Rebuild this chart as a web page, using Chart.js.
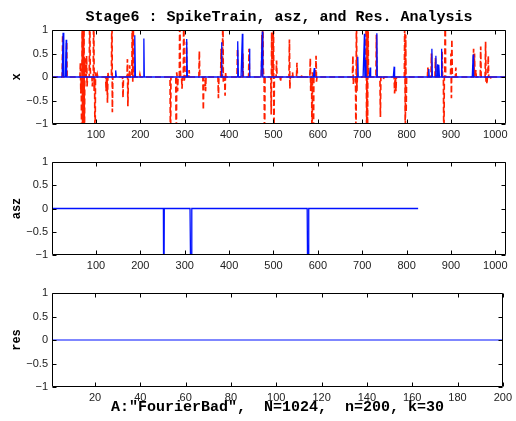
<!DOCTYPE html>
<html>
<head>
<meta charset="utf-8">
<script src="https://cdn.jsdelivr.net/npm/chart.js@4.4.1/dist/chart.umd.min.js"></script>
<style>
  html, body { margin: 0; padding: 0; background: #fff; }
  #wrap { position: relative; width: 516px; height: 421px; }
  #wrap canvas { position: absolute; left: 0; }
</style>
</head>
<body>
<div id="wrap">
  <canvas id="cx" width="516" height="142" style="top:0"></canvas>
  <canvas id="casz" width="516" height="136" style="top:142px"></canvas>
  <canvas id="cres" width="516" height="143" style="top:278px"></canvas>
</div>
<script>
// signal length and sparse values
const N = 1024;
const xSpikeIdx = [26, 33, 145, 188, 208, 305, 383, 420, 430, 446, 475, 592, 690, 705, 708, 718, 733, 772, 850, 857, 866, 870, 873, 879, 950];
const xSpikeVal = [0.94, 0.79, 0.14, 0.89, 0.82, 0.81, 0.74, 0.76, 0.92, 0.6, 0.97, 0.19, 0.43, 0.92, 0.36, 0.2, 0.93, 0.22, 0.17, 0.6, 0.45, 0.27, 0.26, 0.6, 0.48];

// red dashed estimate (index, value)
const recIdx = [25, 34, 65, 66, 68, 69, 70, 71, 72, 73, 74, 75, 79, 80, 86, 87, 92, 95, 96, 98, 99, 103,
  123, 126, 127, 136, 137, 161, 171, 172, 176, 182, 183, 184, 199,
  268, 281, 282, 284, 289, 290, 294, 298, 299, 304, 310, 333, 342, 347, 376, 382, 386, 387, 391, 392,
  419, 431, 445, 474, 476, 477, 480, 495, 496, 500, 501, 507, 516,
  536, 537, 543, 553, 564, 583, 584, 587, 588, 590, 596, 597, 679, 680, 686, 687, 688,
  709, 710, 711, 712, 713, 732, 741, 748, 773, 776,
  796, 797, 798, 799, 848, 856, 865, 880, 884, 887, 900, 901, 902, 911, 951, 953, 956, 967, 978, 979, 981, 984, 990];
const recVal = [0.9, 0.75, 0.3, -0.35, -1.8, 1.6, -1.5, 1.8, -1.6, 1.5, -1.7, 0.4, 0.45, -0.2, 1.6, 0.2, -0.2, 1.7, -0.3, -1.6, 0.1, 0.05,
  -0.3, -0.55, 0.1, 1.6, -0.75, -0.44, 0.38, -0.62, 0.25, 1.6, -0.1, 1.5, 0.05,
  -1.6, -1.7, 0.1, -0.3, 1.6, 0.2, -0.25, 1.6, -0.1, 0.75, 0.15, 0.55, -0.7, -0.3, -0.45, 0.6, 1.6, -0.1, -0.4, 0.1,
  0.6, 0.5, 0.6, 0.9, 1.6, 0.2, -1.6, -0.8, 0.95, 1.6, -1.6, 0.35, -0.1,
  0.8, -0.25, 0.1, 0.3, 0.05, 0.4, -0.3, -1.6, 0.1, -1.6, 0.45, -0.1, 0.45, -0.15, -1.6, 1.6, -0.3,
  1.6, -1.6, 1.4, -1.6, 1.6, 0.9, -0.85, -0.05, -0.35, -0.3,
  1.6, -1.6, 0.9, -0.75, 0.2, 0.5, 0.4, 0.55, -1.6, 1.6, 0.5, -0.45, 0.8, 0.2, 0.6, 0.5, 0.15, 0.65, 0.75, -0.1, -0.15, 0.45, -0.05];

const aszLen = 826;
const aszSpikeIdx = [253, 315, 578];
const aszSpikeVal = [-3, -3, -3];

const resLen = 200;
const resIdx = [];
const resVal = [];

const xTicksSignal = [100, 200, 300, 400, 500, 600, 700, 800, 900, 1000];
const xTicksRes = [20, 40, 60, 80, 100, 120, 140, 160, 180, 200];
const yTicks = [-1, -0.5, 0, 0.5, 1];
const yTickLabels = ['\u22121', '\u22120.5', '0', '0.5', '1'];

const BLUE = '#0010ff';
const RED = '#ff2000';

function series(len, idx, val) {
  const pts = [];
  for (let i = 1; i <= len; i++) pts.push({ x: i, y: 0 });
  idx.forEach((k, j) => { pts[k - 1].y = val[j]; });
  return pts;
}

// MATLAB style box with inward ticks
const matlabBox = {
  id: 'matlabBox',
  afterDatasetsDraw(chart) {
    const { ctx, chartArea: a, scales } = chart;
    const L = Math.round(a.left) + 0.5, R = Math.round(a.right) - 0.5;
    const T = Math.round(a.top) + 0.5, B = Math.round(a.bottom) - 0.5;
    ctx.save();
    ctx.strokeStyle = '#000';
    ctx.lineWidth = 1;
    ctx.beginPath();
    ctx.rect(L, T, R - L, B - T);
    scales.x.ticks.forEach(t => {
      const p = Math.round(scales.x.getPixelForValue(t.value)) + 0.5;
      ctx.moveTo(p, B); ctx.lineTo(p, B - 4);
      ctx.moveTo(p, T); ctx.lineTo(p, T + 4);
    });
    scales.y.ticks.forEach(t => {
      const p = Math.round(scales.y.getPixelForValue(t.value)) + 0.5;
      ctx.moveTo(L, p); ctx.lineTo(L + 4, p);
      ctx.moveTo(R, p); ctx.lineTo(R - 4, p);
    });
    ctx.stroke();
    ctx.restore();
  }
};

const tickFont = { family: 'Liberation Sans', size: 11 };
const labelFont = { family: 'Liberation Mono', weight: 'bold', size: 12 };
const titleFont = { family: 'Liberation Mono', weight: 'bold', size: 15 };

function scales(xTicks, xMax, xHeight, yTitle, xTitle) {
  return {
    x: {
      type: 'linear', min: 1, max: xMax,
      afterBuildTicks: s => { s.ticks = xTicks.map(v => ({ value: v })); },
      afterFit: s => { s.height = xHeight; },
      ticks: { autoSkip: false, maxRotation: 0, padding: 4, font: tickFont, color: '#222', callback: v => String(v) },
      grid: { display: false, drawTicks: false },
      border: { display: false },
      title: xTitle ? { display: true, text: xTitle, font: titleFont, color: '#000', padding: { top: 0, bottom: 5 } } : { display: false }
    },
    y: {
      min: -1, max: 1,
      afterBuildTicks: s => { s.ticks = yTicks.map(v => ({ value: v })); },
      afterFit: s => { s.width = 52; },
      ticks: { padding: 4, font: tickFont, color: '#222', callback: (v, i) => yTickLabels[i] },
      grid: { display: false, drawTicks: false },
      border: { display: false },
      title: { display: true, text: yTitle, font: labelFont, color: '#000', padding: { top: 10, bottom: 0 } }
    }
  };
}

function line(data, color, width, dash) {
  return { data, borderColor: color, borderWidth: width, borderDash: dash || [], pointRadius: 0, tension: 0, fill: false };
}

const common = { responsive: false, animation: false, events: [], parsing: false };

// blue spike train drawn on top of the red dashed estimate
new Chart(document.getElementById('cx'), {
  type: 'line',
  data: { datasets: [
    line(series(N, xSpikeIdx, xSpikeVal), BLUE, 1.3),
    line(series(N, recIdx, recVal), RED, 1.7, [6, 3])
  ] },
  options: Object.assign({}, common, {
    layout: { padding: { right: 10 } },
    plugins: {
      legend: { display: false }, tooltip: { enabled: false },
      title: { display: true, fullSize: false, text: 'Stage6 : SpikeTrain, asz, and Res. Analysis', font: titleFont, color: '#000', padding: { top: 8, bottom: 4 } }
    },
    scales: scales(xTicksSignal, N, 18, 'x')
  }),
  plugins: [matlabBox]
});

new Chart(document.getElementById('casz'), {
  type: 'line',
  data: { datasets: [line(series(aszLen, aszSpikeIdx, aszSpikeVal), BLUE, 1.3)] },
  options: Object.assign({}, common, {
    layout: { padding: { top: 20, right: 10 } },
    plugins: { legend: { display: false }, tooltip: { enabled: false } },
    scales: scales(xTicksSignal, N, 23, 'asz')
  }),
  plugins: [matlabBox]
});

new Chart(document.getElementById('cres'), {
  type: 'line',
  data: { datasets: [line(series(resLen, resIdx, resVal), BLUE, 1.2)] },
  options: Object.assign({}, common, {
    layout: { padding: { top: 15, right: 10 } },
    plugins: { legend: { display: false }, tooltip: { enabled: false } },
    scales: scales(xTicksRes, resLen, 34, 'res', 'A:"FourierBad",  N=1024,  n=200, k=30')
  }),
  plugins: [matlabBox]
});
</script>
</body>
</html>
